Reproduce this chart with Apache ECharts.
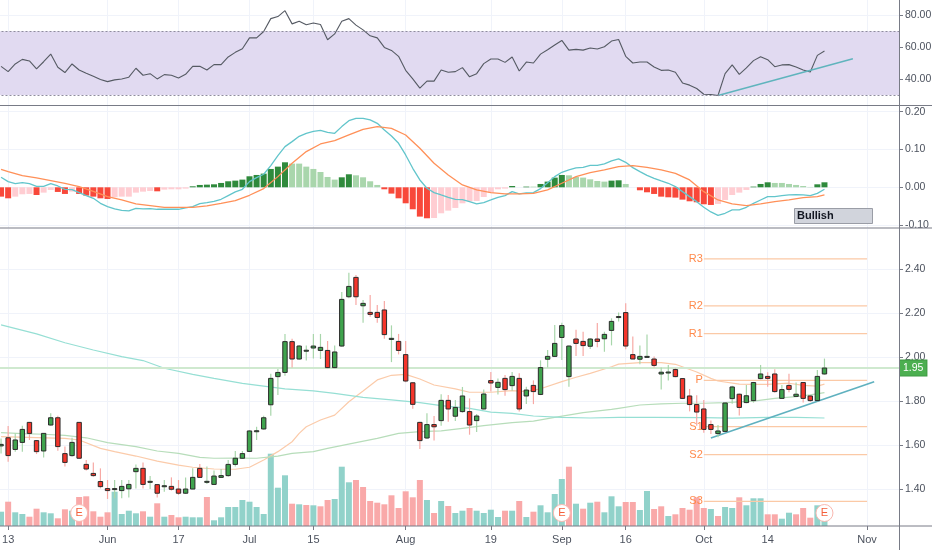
<!DOCTYPE html>
<html lang="en-US">
<head>
<meta charset="utf-8">
<title>Price chart</title>
<script src="https://cdn.jsdelivr.net/npm/echarts@6/dist/echarts.min.js"></script>
<style>
  html, body { margin: 0; padding: 0; background: #fff; }
  #chart { width: 932px; height: 550px; }
</style>
</head>
<body>
<div id="chart"></div>
<script>
// date ticks: bar index -> label
var tickIdx = [1, 15, 25, 35, 44, 57, 69, 79, 88, 99, 108, 122];
var tickLabels = ['13', 'Jun', '17', 'Jul', '15', 'Aug', '19', 'Sep', '16', 'Oct', '14', 'Nov'];
var barCount = 127;

var opens = [1.596,1.633,1.580,1.612,1.703,1.620,1.573,1.691,1.724,1.561,1.552,1.703,1.512,1.471,1.434,1.402,1.399,1.393,1.401,1.479,
  1.494,1.431,1.420,1.411,1.412,1.400,1.381,1.400,1.494,1.431,1.421,1.453,1.461,1.512,1.540,1.571,1.662,1.673,1.783,1.911,
  1.930,2.070,1.991,2.030,2.041,2.030,2.030,1.952,2.050,2.274,2.362,2.233,2.203,2.203,2.214,2.080,2.071,2.011,1.883,1.703,
  1.632,1.693,1.711,1.803,1.731,1.752,1.752,1.711,1.764,1.893,1.862,1.903,1.870,1.903,1.823,1.871,1.830,1.990,2.003,2.089,
  1.911,2.082,2.071,2.049,2.082,2.083,2.121,2.182,2.202,2.011,1.990,2.001,1.991,1.923,1.930,1.943,1.902,1.823,1.784,1.764,
  1.693,1.652,1.662,1.811,1.831,1.793,1.802,1.902,1.912,1.923,1.812,1.871,1.821,1.884,1.823,1.802,1.923];
var closes = [1.603,1.552,1.623,1.671,1.653,1.570,1.653,1.724,1.593,1.521,1.612,1.540,1.491,1.461,1.411,1.393,1.402,1.412,1.421,1.494,
  1.421,1.435,1.381,1.415,1.399,1.381,1.400,1.453,1.453,1.435,1.459,1.461,1.512,1.540,1.561,1.664,1.665,1.724,1.903,1.930,
  2.070,1.991,2.050,2.031,2.050,2.044,1.952,2.023,2.262,2.321,2.274,2.244,2.194,2.180,2.102,2.085,2.030,1.891,1.785,1.620,
  1.693,1.683,1.803,1.764,1.771,1.823,1.691,1.732,1.832,1.882,1.885,1.852,1.912,1.764,1.850,1.843,1.952,2.003,2.062,2.143,
  2.050,2.062,2.052,2.082,2.071,2.103,2.162,2.184,2.050,1.991,2.003,2.003,1.962,1.931,1.932,1.911,1.812,1.784,1.750,1.671,
  1.671,1.664,1.791,1.864,1.771,1.824,1.884,1.923,1.903,1.843,1.852,1.853,1.831,1.812,1.802,1.912,1.950];
var lows = [1.562,1.524,1.570,1.570,1.623,1.559,1.543,1.688,1.574,1.502,1.547,1.537,1.484,1.456,1.403,1.355,1.358,1.358,1.362,1.403,
  1.403,1.400,1.362,1.388,1.393,1.373,1.377,1.399,1.450,1.423,1.418,1.450,1.456,1.502,1.537,1.570,1.623,1.670,1.733,1.827,
  1.915,1.952,1.987,1.984,1.993,1.991,1.949,1.949,2.047,2.267,2.236,2.156,2.183,2.156,2.083,1.977,2.012,1.885,1.765,1.582,
  1.627,1.621,1.688,1.706,1.709,1.747,1.647,1.659,1.761,1.843,1.830,1.824,1.847,1.752,1.786,1.786,1.827,1.952,2.000,1.987,
  1.865,2.005,2.005,2.036,2.044,2.024,2.053,2.161,2.035,1.990,1.967,1.999,1.952,1.853,1.893,1.908,1.809,1.753,1.688,1.656,
  1.650,1.635,1.659,1.788,1.734,1.790,1.793,1.899,1.865,1.838,1.809,1.840,1.818,1.793,1.796,1.799,1.920];
var highs = [1.630,1.687,1.653,1.688,1.705,1.623,1.655,1.744,1.733,1.593,1.633,1.705,1.532,1.521,1.494,1.441,1.441,1.441,1.441,1.512,
  1.521,1.459,1.423,1.441,1.453,1.441,1.453,1.494,1.514,1.502,1.484,1.491,1.532,1.573,1.573,1.668,1.683,1.733,1.924,1.946,
  2.105,2.083,2.055,2.052,2.105,2.105,2.073,2.052,2.296,2.383,2.373,2.259,2.282,2.236,2.255,2.144,2.105,2.073,1.885,1.706,
  1.744,1.732,1.831,1.827,1.805,1.864,1.812,1.741,1.853,1.932,1.903,1.918,1.932,1.926,1.865,1.894,1.985,2.032,2.146,2.156,
  2.053,2.124,2.115,2.085,2.155,2.115,2.176,2.203,2.244,2.093,2.052,2.103,2.002,1.952,1.964,1.949,1.903,1.855,1.826,1.805,
  1.712,1.691,1.794,1.870,1.834,1.873,1.887,1.964,1.931,1.944,1.873,1.924,1.884,1.887,1.826,1.941,1.993];
var volumes = [14.3,24.3,13.7,12,9.3,17.3,13.7,12.7,7.7,16.7,15.3,29,29.7,14.7,9.3,13.7,34.3,12,15.3,12.7,
  14.7,9.3,22.7,9.3,11,8.7,9.3,8.7,8.7,29,5.7,8.7,19,19,26,24.3,19,12,72.3,38.3,
  50.7,22.3,21.7,21,20.7,19.7,26,27,59.3,43.7,46,39,25,23.3,21.7,30.7,18,34.7,28.7,46,
  26,13,25,20,13,15.3,18,15.3,13,16.3,9,15.3,15.3,25,9,14.3,20.7,13.7,32,47,
  59.3,22.3,17.3,23.3,24.3,13.7,29.7,19.7,24,24,16,35,17,19.7,10,11.7,18,16.3,28.7,18,
  17,10,19,18,28.7,20.7,27.7,27.7,11.7,11.7,7.3,13.3,11.7,18,8.3,20.7,13];
var earningsIdx = [11, 79, 116];
var earningsLevel = 13;

var rsi = [48.0,44.7,49.5,52.4,51.4,46.4,50.9,55.7,47.4,44.1,49.5,45.7,43.7,41.8,39.7,38.4,39.5,40.1,41.2,46.8,
  42.4,43.4,40.1,42.8,42.4,40.7,43.0,48.0,48.0,45.7,49.1,49.1,53.9,56.8,59.1,65.9,65.9,69.9,78.0,79.3,
  83.0,74.7,76.4,74.1,75.3,74.3,64.7,68.4,76.4,78.0,73.9,70.9,67.2,65.9,59.9,58.0,54.3,45.5,40.1,34.3,
  38.7,38.7,45.7,44.3,44.7,47.2,41.4,43.4,49.7,52.6,52.6,50.5,53.9,45.1,50.7,50.1,55.7,58.4,61.4,64.3,
  58.2,58.7,58.2,59.5,58.9,60.3,63.9,64.9,54.3,50.1,50.7,50.7,47.6,45.5,45.7,44.3,37.6,36.2,34.1,30.5,
  30.3,29.7,43.4,48.9,43.0,47.0,51.6,54.1,52.2,47.8,48.9,49.1,47.6,45.7,44.5,54.9,57.6];
var rsiTrend = [[101, 29.7], [120, 52.8]];

var macdLine = [.0264,.0150,.0097,.0123,.0097,.0026,.0026,.0097,.0035,-.0053,-.0062,-.0141,-.0220,-.0291,-.0423,-.0511,-.0573,-.0608,-.0626,-.0555,
  -.0573,-.0564,-.0581,-.0581,-.0581,-.0581,-.0546,-.0511,-.0432,-.0405,-.0370,-.0317,-.0220,-.0123,-.0053,.0150,.0256,.0344,.0573,.0837,
  .1075,.1207,.1348,.1427,.1480,.1507,.1454,.1427,.1604,.1762,.1824,.1824,.1780,.1692,.1515,.1357,.1163,.0855,.0502,.0194,
  -.0026,-.0141,-.0203,-.0264,-.0317,-.0326,-.0379,-.0441,-.0405,-.0335,-.0264,-.0220,-.0115,-.0176,-.0150,-.0141,-.0035,.0123,.0282,.0396,
  .0458,.0511,.0529,.0581,.0581,.0617,.0696,.0749,.0661,.0520,.0414,.0317,.0238,.0167,.0106,.0018,-.0115,-.0247,-.0379,-.0529,
  -.0652,-.0740,-.0687,-.0599,-.0599,-.0529,-.0423,-.0335,-.0247,-.0247,-.0220,-.0203,-.0194,-.0203,-.0220,-.0159,-.0053];
var signalAt = [0,1,3,5,7,9,11,13,15,17,19,21,23,25,27,29,31,33,35,37,39,41,43,45,47,49,51,53,55,57,59,61,63,65,
  67,69,71,73,75,77,79,81,83,85,87,89,91,93,95,97,99,101,103,105,107,109,111,113,115,116];
var signalVals = [.0476,.0414,.0308,.0247,.0176,.0106,.0018,-.0106,-.0247,-.0335,-.0441,-.0485,-.0529,-.0529,-.0529,-.0493,-.0423,-.0352,-.0211,-.0035,
  .0282,.0634,.0943,.1145,.1233,.1383,.1533,.1604,.1559,.1383,.1031,.0634,.0326,.0062,
  -.0070,-.0141,-.0176,-.0176,-.0159,-.0070,.0106,.0282,.0388,.0458,.0546,.0573,.0529,.0458,.0370,.0194,-.0115,-.0335,-.0441,-.0485,-.0441,-.0379,-.0335,-.0273,-.0247,-.0203];
var histogram = [-.0247,-.0291,-.0247,-.0185,-.0176,-.0203,-.0141,-.0070,-.0123,-.0176,-.0115,-.0176,-.0220,-.0247,-.0291,-.0308,-.0264,-.0247,-.0247,-.0141,
  -.0115,-.0097,-.0106,-.0062,-.0053,-.0053,-.0035,.0026,.0062,.0070,.0079,.0115,.0159,.0176,.0203,.0291,.0326,.0361,.0485,.0546,
  .0661,.0626,.0626,.0546,.0485,.0405,.0273,.0203,.0264,.0344,.0317,.0264,.0159,.0062,-.0053,-.0167,-.0291,-.0423,-.0581,-.0775,
  -.0819,-.0811,-.0687,-.0617,-.0546,-.0423,-.0370,-.0361,-.0256,-.0141,-.0053,-.0035,.0035,0,.0018,.0018,.0088,.0150,.0256,.0326,
  .0317,.0273,.0256,.0211,.0167,.0150,.0176,.0185,.0088,0,-.0079,-.0132,-.0176,-.0247,-.0264,-.0273,-.0326,-.0370,-.0396,-.0449,
  -.0467,-.0440,-.0335,-.0203,-.0141,-.0070,.0018,.0088,.0132,.0115,.0115,.0088,.0062,.0035,.0009,.0079,.0132];

var ema20At = [0,5,9,11,14,16,19,22,25,27,30,33,35,37,39,41,42,43,45,47,49,51,53,55,57,59,61,64,66,69,72,74,76,79,81,83,86,87,90,93,95,98,100,101,104,106,108,111,113,115,116];
var ema20 = [1.638,1.634,1.630,1.623,1.585,1.570,1.550,1.527,1.509,1.499,1.491,1.490,1.499,1.532,1.570,1.615,1.653,1.683,1.714,1.736,1.797,1.846,1.896,1.917,1.921,1.900,1.873,1.855,1.840,1.840,1.847,1.843,1.856,1.888,1.908,1.926,1.956,1.968,1.975,1.975,1.967,1.932,1.903,1.891,1.877,1.876,1.876,1.881,1.871,1.868,1.877];
var ma50At = [0,3,6,9,12,15,19,22,25,28,30,33,36,39,41,44,46,50,53,56,59,62,65,68,72,75,78,82,86,87,90,93,96,99,102,106,109,112,114,116];
var ma50 = [1.656,1.652,1.649,1.644,1.633,1.611,1.593,1.573,1.562,1.544,1.540,1.541,1.540,1.550,1.562,1.570,1.585,1.611,1.630,1.653,1.661,1.664,1.676,1.688,1.702,1.709,1.726,1.747,1.762,1.767,1.782,1.787,1.790,1.790,1.793,1.800,1.812,1.820,1.828,1.838];
var ma200At = [0,5,9,13,17,20,23,27,30,34,37,40,44,47,51,55,59,62,66,69,72,75,79,83,87,92,99,103,108,112,116];
var ma200 = [2.146,2.105,2.065,2.032,2.002,1.984,1.949,1.921,1.903,1.880,1.868,1.855,1.846,1.835,1.817,1.805,1.793,1.779,1.767,1.750,1.744,1.732,1.726,1.723,1.726,1.726,1.725,1.722,1.726,1.726,1.723];

var pivotNames = ['R3', 'R2', 'R1', 'P', 'S1', 'S2', 'S3'];
var pivotVals = [2.446, 2.233, 2.106, 1.894, 1.684, 1.556, 1.344];
var pivotFrom = 99, pivotTo = 122;
var priceTrend = [[100, 1.632], [123, 1.888]];
var lastPrice = 1.95;

var GRID = '#f0f3fa', AXIS = '#787b86', TEXT = '#4c525e';
var FONT = '"Liberation Sans", Arial, sans-serif';

function pairs(at, vals) {
  return at.map(function (x, i) { return [x, vals[i]]; });
}

var categories = [];
for (var b = 0; b < barCount; b++) categories.push(String(b));

function isTick(i) { return tickIdx.indexOf(i) >= 0; }

function xAxis(gridIndex, showLabels) {
  return {
    type: 'category', gridIndex: gridIndex, data: categories, boundaryGap: true,
    axisLine: { show: false },
    axisTick: { show: showLabels, interval: isTick, alignWithLabel: true, length: 4, lineStyle: { color: AXIS } },
    axisLabel: {
      show: showLabels, interval: isTick, color: TEXT, fontFamily: FONT, fontSize: 11, margin: 8,
      formatter: function (v, i) { return tickLabels[tickIdx.indexOf(i)]; }
    },
    splitLine: { show: true, interval: isTick, alignWithLabel: true, lineStyle: { color: GRID, width: 1 } }
  };
}

function yAxis(gridIndex, min, max, ticks) {
  return {
    type: 'value', gridIndex: gridIndex, position: 'right', min: min, max: max,
    axisLine: { show: false },
    axisTick: { show: true, customValues: ticks, length: 4, lineStyle: { color: AXIS } },
    axisLabel: {
      show: true, customValues: ticks, color: TEXT, fontFamily: FONT, fontSize: 10.5, margin: 6,
      formatter: function (v) { return v.toFixed(2); }
    },
    splitLine: { show: true, lineStyle: { color: GRID, width: 1 } }
  };
}

// body has a dark outline while the wick stays pale, so it needs a custom shape
function renderCandle(params, api) {
  var x = api.value(0), o = api.value(1), c = api.value(2), l = api.value(3), h = api.value(4);
  var up = c >= o;
  var top = api.coord([x, Math.max(o, c)]);
  var bot = api.coord([x, Math.min(o, c)]);
  var lo = api.coord([x, l]);
  var hi = api.coord([x, h]);
  var w = 4.4;
  return {
    type: 'group',
    children: [{
      type: 'line',
      shape: { x1: top[0], y1: hi[1], x2: top[0], y2: lo[1] },
      style: { stroke: up ? '#a8d6ab' : '#f7a9a5', lineWidth: 1.2 }
    }, {
      type: 'rect',
      shape: { x: top[0] - w / 2, y: top[1], width: w, height: Math.max(bot[1] - top[1], 1) },
      style: { fill: up ? '#3fa34d' : '#f4352b', stroke: '#2b2b2b', lineWidth: 1 }
    }]
  };
}

var candleData = opens.map(function (o, i) { return [i, o, closes[i], lows[i], highs[i]]; });

function lineSeries(xi, yi, data, color, width) {
  return {
    type: 'line', xAxisIndex: xi, yAxisIndex: yi, data: data, symbol: 'none',
    lineStyle: { color: color, width: width }, z: 4, animation: false, silent: true
  };
}

var series = [];

// RSI pane
var rsiSeries = lineSeries(0, 0, rsi.map(function (v, i) { return [i, v]; }), '#555a63', 1.1);
rsiSeries.markArea = {
  silent: true, itemStyle: { color: '#e1daf1' },
  data: [[{ yAxis: 30 }, { yAxis: 70 }]]
};
rsiSeries.markLine = {
  silent: true, symbol: 'none', label: { show: false },
  lineStyle: { color: '#8f8c9e', type: [2, 2], width: 1 },
  data: [{ yAxis: 30 }, { yAxis: 70 }]
};
series.push(rsiSeries);
series.push(lineSeries(0, 0, rsiTrend, '#5fb4bd', 1.4));

// MACD pane
series.push({
  type: 'bar', xAxisIndex: 1, yAxisIndex: 1, barWidth: 6, animation: false, silent: true, z: 2,
  data: histogram.map(function (v, i) {
    var prev = i > 0 ? histogram[i - 1] : v - .001;
    var color;
    if (v >= 0) color = v > prev ? '#2f8a3c' : '#a9d6ac';
    else color = (v < prev || i === 0) ? '#f8483a' : '#ffcdd2';
    return { value: v, itemStyle: { color: color } };
  })
});
series.push(lineSeries(1, 1, macdLine.map(function (v, i) { return [i, v]; }), '#62c5cb', 1.3));
series.push(lineSeries(1, 1, pairs(signalAt, signalVals), '#ff9058', 1.3));

// volume pane sits under the price pane
series.push({
  type: 'bar', xAxisIndex: 3, yAxisIndex: 3, barWidth: 6, animation: false, silent: true, z: 1,
  data: volumes.map(function (v, i) {
    var up = i === 0 || closes[i] >= closes[i - 1];
    return { value: v, itemStyle: { color: up ? '#91d2ca' : '#f9a9a9' } };
  })
});
series.push({
  type: 'scatter', xAxisIndex: 3, yAxisIndex: 3, symbolSize: 17, animation: false, silent: true, z: 6,
  data: earningsIdx.map(function (i) { return [i, earningsLevel]; }),
  itemStyle: { color: '#fff', borderColor: '#f9b8b0', borderWidth: 1, opacity: 1 },
  label: { show: true, position: 'inside', formatter: 'E', color: '#f4603c', fontFamily: FONT, fontSize: 11 }
});

// price pane
series.push(lineSeries(2, 2, pairs(ema20At, ema20), '#fbcbaa', 1.2));
series.push(lineSeries(2, 2, pairs(ma50At, ma50), '#b7ddba', 1.2));
series.push(lineSeries(2, 2, pairs(ma200At, ma200), '#96dfd4', 1.2));
pivotVals.forEach(function (v) {
  series.push(lineSeries(2, 2, [[pivotFrom, v], [pivotTo, v]], '#fbc9a6', 1.2));
});
series.push({
  type: 'scatter', xAxisIndex: 2, yAxisIndex: 2, symbolSize: 0, animation: false, silent: true, z: 5,
  data: pivotVals.map(function (v, i) { return { value: [pivotFrom, v], name: pivotNames[i] }; }),
  itemStyle: { opacity: 1 },
  label: {
    show: true, position: 'left', distance: 1, formatter: '{b}',
    color: '#ff8a4c', fontFamily: FONT, fontSize: 11
  }
});
series.push({
  type: 'custom', xAxisIndex: 2, yAxisIndex: 2, renderItem: renderCandle, animation: false, silent: true, z: 5,
  data: candleData, encode: { x: 0, y: [1, 2, 3, 4] },
  markLine: {
    silent: true, symbol: 'none', animation: false,
    lineStyle: { color: '#cfe9cf', type: 'solid', width: 2 },
    label: {
      show: true, position: 'end', distance: 1, formatter: lastPrice.toFixed(2), color: '#fff',
      backgroundColor: '#4caf50', borderColor: '#3e9a43', borderWidth: 1,
      padding: [2, 3], fontFamily: FONT, fontSize: 10.5
    },
    data: [{ yAxis: lastPrice }]
  }
});
series.push(lineSeries(2, 2, priceTrend, '#5fb1bf', 1.6));

var chart = echarts.init(document.getElementById('chart'), null, { renderer: 'canvas' });
chart.setOption({
  animation: false,
  backgroundColor: '#fff',
  grid: [
    { left: -2.5, width: 901.5, top: 0, height: 105.5, outerBoundsMode: 'none' },
    { left: -2.5, width: 901.5, top: 106, height: 122, outerBoundsMode: 'none' },
    { left: -2.5, width: 901.5, top: 229, height: 297, outerBoundsMode: 'none' },
    { left: -2.5, width: 901.5, top: 229, height: 297, outerBoundsMode: 'none' }
  ],
  xAxis: [
    xAxis(0, false), xAxis(1, false), xAxis(2, false), xAxis(3, true)
  ],
  yAxis: [
    yAxis(0, 23.4, 89.7, [40, 60, 80]),
    yAxis(1, -.1076, .2149, [-.1, 0, .1, .2]),
    yAxis(2, 1.232, 2.582, [1.4, 1.6, 1.8, 2.0, 2.2, 2.4]),
    { type: 'value', gridIndex: 3, min: 0, max: 297, show: false }
  ],
  series: series,
  graphic: [
    { type: 'line', z: 50, shape: { x1: 0, y1: 105.5, x2: 932, y2: 105.5 }, style: { stroke: AXIS, lineWidth: 1.2 } },
    { type: 'line', z: 50, shape: { x1: 0, y1: 228, x2: 932, y2: 228 }, style: { stroke: AXIS, lineWidth: 1.2 } },
    { type: 'line', z: 50, shape: { x1: 0, y1: 526, x2: 932, y2: 526 }, style: { stroke: AXIS, lineWidth: 1 } },
    { type: 'line', z: 50, shape: { x1: 899.5, y1: 0, x2: 899.5, y2: 550 }, style: { stroke: AXIS, lineWidth: 1 } },
    {
      type: 'rect', z: 50, shape: { x: 794.5, y: 208.5, width: 78, height: 15 },
      style: { fill: '#d1d4dc', stroke: '#9a9da6', lineWidth: 1 }
    },
    {
      type: 'text', z: 51, x: 797, y: 210,
      style: { text: 'Bullish', fill: '#131722', font: 'bold 11px ' + FONT }
    }
  ]
});
</script>
</body>
</html>
